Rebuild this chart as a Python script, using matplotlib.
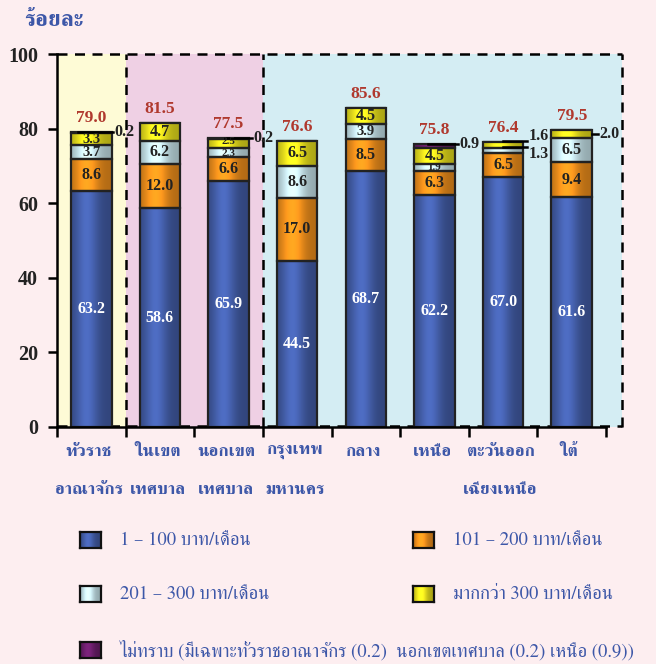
import numpy as np
import matplotlib
matplotlib.use("Agg")
import matplotlib.pyplot as plt
from matplotlib.patches import Rectangle
from matplotlib import font_manager as fm
from matplotlib.ft2font import FT2Font
from matplotlib.colors import to_rgb

# ---------------- data ----------------
categories = ["ทั่วราช\nอาณาจักร", "ในเขต\nเทศบาล", "นอกเขต\nเทศบาล", "กรุงเทพ\nมหานคร",
              "กลาง", "เหนือ", "ตะวันออก\nเฉียงเหนือ", "ใต้"]
s_1_100 = [63.2, 58.6, 65.9, 44.5, 68.7, 62.2, 67.0, 61.6]
s_101_200 = [8.6, 12.0, 6.6, 17.0, 8.5, 6.3, 6.5, 9.4]
s_201_300 = [3.7, 6.2, 2.3, 8.6, 3.9, 1.9, 1.3, 6.5]
s_over_300 = [3.3, 4.7, 2.5, 6.5, 4.5, 4.5, 1.6, 2.0]
s_unknown = [0.2, 0.0, 0.2, 0.0, 0.0, 0.9, 0.0, 0.0]
totals = [79.0, 81.5, 77.5, 76.6, 85.6, 75.8, 76.4, 79.5]
series_labels = ["1 – 100 บาท/เดือน", "101 – 200 บาท/เดือน", "201 – 300 บาท/เดือน",
                 "มากกว่า 300 บาท/เดือน",
                 "ไม่ทราบ (มีเฉพาะทั่วราชอาณาจักร (0.2)  นอกเขตเทศบาล (0.2) เหนือ (0.9))"]
y_ticks = [0, 20, 40, 60, 80, 100]
y_title = "ร้อยละ"

# ---------------- fonts ----------------
def find_thai_font():
    serif_pref, any_font = None, None
    seen = set()
    for f in fm.fontManager.ttflist:
        if f.fname in seen:
            continue
        seen.add(f.fname)
        try:
            cm = FT2Font(f.fname).get_charmap()
        except Exception:
            continue
        if 0x0E17 in cm and 0x0E49 in cm and 0x0E34 in cm:
            if any_font is None:
                any_font = f.name
            if "serif" in f.name.lower() and "sans" not in f.name.lower() and serif_pref is None:
                serif_pref = f.name
    return serif_pref or any_font

thai = find_thai_font()
thai_fam = ([thai] if thai else []) + ["DejaVu Sans"]
num_fam = ["Liberation Serif", "DejaVu Serif"]

# ---------------- colours ----------------
BG = "#FDEEF0"
TXT_BLUE = "#3D57A8"
RED = "#B0392E"
seg_colors = ["#4560AC", "#F7941D", "#CDEBF2", "#EFE61E", "#6E1F6E"]

fig = plt.figure(figsize=(6.56, 6.64), dpi=100, facecolor=BG)
W, H = 656, 664
ax = fig.add_axes([57 / W, 1 - 427 / H, (606 - 57) / W, (427 - 54) / H])
ax.set_facecolor("none")
ax.set_xlim(-0.5, 7.5)
ax.set_ylim(0, 100)

# background regions with dashed borders
x_right = 7.74
regions = [(-0.5, 0.5, "#FEFBD6"), (0.5, 2.5, "#EFD0E4"), (2.5, x_right, "#D4EDF3")]
for x0, x1, c in regions:
    ax.add_patch(Rectangle((x0, 0), x1 - x0, 100, facecolor=c, edgecolor="none",
                           zorder=0, clip_on=False))
dash = dict(color="black", lw=1.8, ls=(0, (4, 3)), zorder=1, clip_on=False)
ax.plot([-0.5, x_right], [100, 100], **dash)
ax.plot([-0.5, x_right], [0.3, 0.3], **dash)
for xv in [0.5, 2.5, x_right]:
    ax.plot([xv, xv], [0, 100], **dash)

# gradient helper
def shade(color, n=64):
    base = np.array(to_rgb(color))
    t = np.linspace(0, 1, n)
    f = 0.72 + 0.42 * np.exp(-((t - 0.38) / 0.28) ** 2)
    img = np.clip(base[None, :] * f[:, None], 0, 1)
    return img[None, :, :]

width = 0.59
xs = np.arange(len(categories))
series = [s_1_100, s_101_200, s_201_300, s_over_300, s_unknown]
bottoms = np.zeros(len(categories))
for si, (vals, col) in enumerate(zip(series, seg_colors)):
    bars = ax.bar(xs, vals, width, bottom=bottoms, color=col, edgecolor="#222222",
                  linewidth=1.6, zorder=3)
    for b, v, bt in zip(bars, vals, bottoms):
        if v <= 0:
            continue
        x0 = b.get_x()
        im = ax.imshow(shade(col), extent=(x0, x0 + width, bt, bt + v), aspect="auto",
                       zorder=3.5, interpolation="bilinear")
        im.set_clip_path(b)
        b.set_facecolor("none")
        b.set_zorder(4)
    bottoms = bottoms + np.array(vals)
ax.set_xlim(-0.5, 7.5)
ax.set_ylim(0, 100)

# labels inside segments
fs = 11.5
nudge = {(2, 2): -0.4, (2, 3): 0.5}
for i in range(len(categories)):
    b = 0.0
    for si, vals in enumerate(series[:4]):
        v = vals[i]
        c = b + v / 2 + nudge.get((i, si), 0.0)
        show = True
        if (i == 6 and si in (2, 3)) or (i == 7 and si == 3):
            show = False
        if show:
            size = fs if v >= 4 else (10.5 if v >= 3 else 8)
            ax.text(xs[i], c, f"{v:.1f}", ha="center", va="center", fontsize=size,
                    fontweight="bold", color="white" if si == 0 else "#222222",
                    family=num_fam, zorder=6)
        b += v
    ax.text(xs[i], totals[i] + 1.6, f"{totals[i]:.1f}", ha="center", va="bottom",
            fontsize=12.5, fontweight="bold", color=RED, family=num_fam, zorder=6)

# leader labels for small segments
def leader(i, y, x_end, text, x_start, ty=None):
    ax.plot([x_start, x_end], [y, y], color="black", lw=1.8, zorder=5, clip_on=False)
    ax.text(x_end + 0.02, y if ty is None else ty, text, ha="left", va="center",
            fontsize=fs, fontweight="bold", color="#222222", family=num_fam,
            zorder=6, clip_on=False)

px = 1 / 68.6
leader(0, 79.0, 0 + (113 - 91) * px, f"{s_unknown[0]:.1f}", x_start=-0.2)
leader(2, 77.5, 2 + (252 - 229) * px, f"{s_unknown[2]:.1f}", x_start=2 - 0.05)
leader(5, 75.8, 5 + (458 - 434) * px, f"{s_unknown[5]:.1f}", x_start=5 - 0.1)
leader(6, 76.7, 6 + (527 - 503) * px, f"{s_over_300[6]:.1f}", x_start=6, ty=78.0)
leader(6, 75.0, 6 + (527 - 503) * px, f"{s_201_300[6]:.1f}", x_start=6, ty=73.2)
leader(7, 78.5, 7 + (598 - 572) * px, f"{s_over_300[7]:.1f}", x_start=7 + width / 2)

# axes styling
for sp in ["top", "right"]:
    ax.spines[sp].set_visible(False)
ax.spines["left"].set_linewidth(1.8)
ax.spines["bottom"].set_linewidth(1.8)
ax.spines["left"].set_zorder(7)
ax.spines["bottom"].set_zorder(7)
ax.set_yticks(y_ticks)
ax.set_yticklabels([str(v) for v in y_ticks], fontsize=14.5, fontweight="bold",
                   family=num_fam, color="#222222")
ax.tick_params(axis="y", length=6.5, width=1.8, direction="out", pad=7)
ax.set_xticks(np.arange(-0.5, 8.0, 1.0))
ax.set_xticklabels([])
ax.tick_params(axis="x", length=7, width=1.8, direction="out")
for i, cat in enumerate(categories):
    lines = cat.split("\n")
    for li, ln in enumerate(lines):
        fig.text((89 + i * 68.6) / W, 1 - (452 + li * 38) / H, ln, ha="center", va="center",
                 fontsize=12.5, color=TXT_BLUE, family=thai_fam, fontweight="bold")

fig.text(24 / W, 1 - 21 / H, y_title, ha="left", va="center", fontsize=16.5,
         fontweight="bold", color=TXT_BLUE, family=thai_fam)

# legend (manual)
leg_pos = [(80, 540), (413, 540), (80, 594), (413, 594), (80, 650)]
for (lx, ly), col, lab in zip(leg_pos, seg_colors, series_labels):
    lax = fig.add_axes([lx / W, 1 - (ly + 8) / H, 21 / W, 16 / H])
    lax.imshow(shade(col), aspect="auto", extent=(0, 1, 0, 1), interpolation="bilinear")
    lax.set_xticks([]); lax.set_yticks([])
    for sp in lax.spines.values():
        sp.set_linewidth(1.6); sp.set_color("#111111")
    fig.text((lx + 40) / W, 1 - ly / H, lab, ha="left", va="center", fontsize=13.4,
             color=TXT_BLUE, family=thai_fam)

fig.savefig("out.png", dpi=100, facecolor=BG)
